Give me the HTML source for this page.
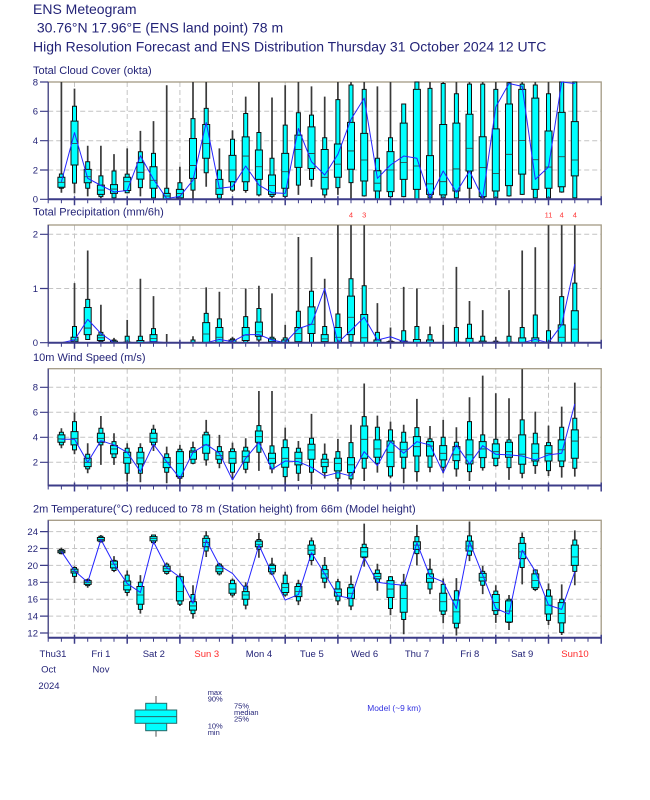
<!DOCTYPE html>
<html><head><meta charset="utf-8"><style>
body{margin:0;background:#fff}
svg{display:block}
text{font-family:"Liberation Sans",Arial,sans-serif;fill:#232377}
.d path,.d polyline{vector-effect:non-scaling-stroke}
.w{fill:none;stroke:#3a3a3a;stroke-width:1.7}
.b{fill:#00ffff;stroke:#111;stroke-width:1}
.m{fill:none;stroke:#333;stroke-width:0.8}
.l{fill:none;stroke:#2424ff;stroke-width:1;stroke-linejoin:round}
.g{fill:none;stroke:#c4c4c4;stroke-width:1;stroke-dasharray:5 3}
.ax{fill:none;stroke:#3c3c88}
.fr{fill:none;stroke:#a39a84;stroke-width:1.3}
.t{font-size:9.5px}
.pt{font-size:11px}
</style></head><body>
<svg xmlns="http://www.w3.org/2000/svg" width="650" height="800" viewBox="0 0 650 800">
<defs>
<g id="xt" class="ax">
<path stroke-width="1" d="M48.2 0v4M61.4 0v4M87.7 0v4M100.9 0v4M114 0v4M140.4 0v4M153.5 0v4M166.7 0v4M193 0v4M206.2 0v4M219.4 0v4M245.7 0v4M258.9 0v4M272 0v4M298.4 0v4M311.5 0v4M324.7 0v4M351 0v4M364.2 0v4M377.4 0v4M403.7 0v4M416.9 0v4M430 0v4M456.4 0v4M469.5 0v4M482.7 0v4M509 0v4M522.2 0v4M535.3 0v4M561.7 0v4M574.8 0v4M588 0v4"/>
<path stroke-width="1.5" d="M74.5 -3v9M127.2 -3v9M179.9 -3v9M232.5 -3v9M285.2 -3v9M337.9 -3v9M390.5 -3v9M443.2 -3v9M495.8 -3v9M548.5 -3v9M601.2 -3v9"/>
</g>
<path id="vg" class="g" d="M74.5 0V117.3M127.2 0V117.3M179.9 0V117.3M232.5 0V117.3M285.2 0V117.3M337.9 0V117.3M390.5 0V117.3M443.2 0V117.3M495.8 0V117.3M548.5 0V117.3"/>
</defs>

<!-- Titles -->
<text x="33" y="14" style="font-size:14px">ENS Meteogram</text>
<text x="33" y="32.7" style="font-size:14px;white-space:pre"> 30.76°N 17.96°E (ENS land point) 78 m</text>
<text x="33" y="51.7" style="font-size:14px">High Resolution Forecast and ENS Distribution Thursday 31 October 2024 12 UTC</text>

<!-- ============ CLOUD ============ -->
<text class="pt" x="33" y="74">Total Cloud Cover (okta)</text>
<path class="g" d="M48.2 170H601.2M48.2 140.7H601.2M48.2 111.3H601.2"/>
<use href="#vg" y="82"/>
<rect class="fr" x="48.2" y="82" width="553" height="117.3"/>
<g class="d" transform="matrix(1 0 0 -14.66 0 199.3)">
<path class="w" d="M61.4 0.45V8M74.5 0.4V7.55M87.7 0.2V3.65M100.9 0.07V3.65M114 0.03V3.08M127.2 0.4V3.47M140.4 0.2V4.67M153.5 0.07V5.33M166.7 0V7.78M179.9 0V2.22M193 0V8M206.2 0.86V8M219.4 0V3.47M232.5 0.5V4.7M245.7 0.45V7M258.9 0.2V8M272 0.1V6.94M285.2 0V7.78M298.4 0.3V8M311.5 0.86V7.7M324.7 0.1V7M337.9 0.3V8M351 0V8M364.2 0.18V8M377.4 0V7.7M390.5 0.18V8M403.7 0.14V6.5M416.9 0V8M430 0V8M443.2 0V8M456.4 0V8M469.5 0V8M482.7 0V8M495.8 0V8M509 0.18V8M522.2 0.3V8M535.3 0.1V8M548.5 0V8M561.7 0.45V8M574.8 0V8"/>
<path class="b" d="M59.4 0.75h4V1.73h-4zM72.5 1.1h4V6.35h-4zM85.7 0.75h4V2.56h-4zM98.9 0.18h4V1.6h-4zM112 0.1h4V1.93h-4zM125.2 0.45h4V1.72h-4zM138.4 0.8h4V3.24h-4zM151.5 0.1h4V3.13h-4zM164.7 0h4V0.75h-4zM177.9 0.07h4V1.13h-4zM191 0.63h4V5.5h-4zM204.2 1.81h4V6.2h-4zM217.4 0.07h4V2h-4zM230.5 0.63h4V4.1h-4zM243.7 0.6h4V5.85h-4zM256.9 0.3h4V4.56h-4zM270 0.2h4V2.8h-4zM283.2 0.2h4V5.06h-4zM296.4 0.97h4V5.9h-4zM309.5 1.36h4V5.74h-4zM322.7 0.3h4V4.2h-4zM335.9 0.8h4V6.8h-4zM349 1.14h4V7.8h-4zM362.2 0.23h4V7.5h-4zM375.4 0h4V2.8h-4zM388.5 0.18h4V4.2h-4zM401.7 0.18h4V6.5h-4zM414.9 0h4V8h-4zM428 0.1h4V7.57h-4zM441.2 0.1h4V7.9h-4zM454.4 0.1h4V7.2h-4zM467.5 0.75h4V7.86h-4zM480.7 0.1h4V7.86h-4zM493.8 0.1h4V7.5h-4zM507 0.23h4V7.95h-4zM520.2 0.34h4V7.86h-4zM533.3 0.1h4V7.8h-4zM546.5 0.1h4V7.2h-4zM559.7 0.5h4V8h-4zM572.8 0.1h4V8h-4z"/>
<path class="b" d="M57.9 0.82h7V1.5h-7zM71 2.34h7V5.33h-7zM84.2 1.13h7V2.04h-7zM97.4 0.34h7V0.97h-7zM110.5 0.4h7V1h-7zM123.7 0.6h7V1.5h-7zM136.9 1.38h7V2.5h-7zM150 0.75h7V2.22h-7zM163.2 0.02h7V0.4h-7zM176.4 0.1h7V0.68h-7zM189.5 1.43h7V4.15h-7zM202.7 2.8h7V5.1h-7zM215.9 0.34h7V1.36h-7zM229 1.2h7V3h-7zM242.2 1.2h7V4.26h-7zM255.4 1.36h7V3.36h-7zM268.5 0.34h7V1.66h-7zM281.7 0.75h7V3.13h-7zM294.9 2.18h7V4.38h-7zM308 2.1h7V4.94h-7zM321.2 0.7h7V3.4h-7zM334.4 1.5h7V3.77h-7zM347.5 2.05h7V5.25h-7zM360.7 1.25h7V4.5h-7zM373.9 0.57h7V1.95h-7zM387 0.52h7V3.25h-7zM400.2 1.36h7V5.2h-7zM413.4 0.68h7V7.5h-7zM426.5 0.34h7V2.98h-7zM439.7 0.3h7V5.1h-7zM452.9 0.57h7V5.2h-7zM466 1.93h7V5.8h-7zM479.2 0.18h7V4.27h-7zM492.3 0.57h7V4.8h-7zM505.5 0.93h7V6.5h-7zM518.7 1.72h7V7.5h-7zM531.8 0.68h7V6.9h-7zM545 0.75h7V4.66h-7zM558.2 0.86h7V5.93h-7zM571.3 1.6h7V5.3h-7z"/>
<path class="m" d="M57.9 1.16h7M71 3.8h7M84.2 1.54h7M97.4 0.63h7M110.5 0.7h7M123.7 1.2h7M136.9 1.84h7M150 1.3h7M163.2 0.22h7M176.4 0.4h7M189.5 2.3h7M202.7 3.8h7M215.9 0.75h7M229 2h7M242.2 2.95h7M255.4 2.22h7M268.5 0.95h7M281.7 1.88h7M294.9 3.4h7M308 3.13h7M321.2 1.5h7M334.4 2.4h7M347.5 3.3h7M360.7 2.68h7M373.9 1.1h7M387 2h7M400.2 2.5h7M413.4 2.27h7M426.5 1.05h7M439.7 1.2h7M452.9 2.07h7M466 3.48h7M479.2 2.16h7M492.3 1.77h7M505.5 3.07h7M518.7 4h7M531.8 2.7h7M545 2.2h7M558.2 2.9h7M571.3 2.68h7"/>
<polyline class="l" points="61.4,1.2 74.5,4.55 87.7,1.43 100.9,0.95 114,0.5 127.2,0.6 140.4,2.97 153.5,1.36 166.7,0.05 179.9,0.2 193,1.3 206.2,5.24 219.4,0.75 232.5,0.86 245.7,2.27 258.9,0.97 272,0.45 285.2,0.4 298.4,4.83 311.5,2.56 324.7,1.66 337.9,3.07 351,5.45 364.2,6.9 377.4,1.43 390.5,2.34 403.7,2.95 416.9,2.8 430,0.1 443.2,1.93 456.4,0.48 469.5,1.93 482.7,0.1 495.8,6.3 509,7.9 522.2,7.7 535.3,1.36 548.5,2.2 561.7,8 574.8,7.9"/>
</g>
<path class="ax" stroke-width="1.2" d="M48.2 82V199.3M40 199.3H48.2M40 170H48.2M40 140.7H48.2M40 111.3H48.2M40 82H48.2"/>
<path class="ax" stroke-width="2" d="M48.2 199.3H601.2"/>
<use href="#xt" y="199.3"/>
<text class="t" x="38" y="202.7" text-anchor="end">0</text>
<text class="t" x="38" y="173.4" text-anchor="end">2</text>
<text class="t" x="38" y="144.1" text-anchor="end">4</text>
<text class="t" x="38" y="114.7" text-anchor="end">6</text>
<text class="t" x="38" y="85.4" text-anchor="end">8</text>

<!-- ============ PRECIP ============ -->
<text class="pt" x="33" y="215.6">Total Precipitation (mm/6h)</text>
<g style="font-size:7.5px" text-anchor="middle">
<text x="351" y="217.7" style="fill:#ff3333">4</text>
<text x="364.2" y="217.7" style="fill:#ff3333">3</text>
<text x="548.5" y="217.7" style="fill:#ff3333">11</text>
<text x="561.7" y="217.7" style="fill:#ff3333">4</text>
<text x="574.8" y="217.7" style="fill:#ff3333">4</text>
</g>
<path class="g" d="M48.2 288.5H601.2M48.2 234.3H601.2"/>
<use href="#vg" y="225.4"/>
<rect class="fr" x="48.2" y="225" width="553" height="117.7"/>
<g class="d" transform="matrix(1 0 0 -54.2 0 342.7)">
<path class="w" d="M74.5 0V1.1M87.7 0.05V1.7M100.9 0V0.7M114 0V0.09M127.2 0V0.42M140.4 0V1.18M153.5 0V0.86M166.7 0V0.16M193 0V0.12M206.2 0V1.02M219.4 0V0.94M232.5 0V0.11M245.7 0V1M258.9 0V1.05M272 0V0.91M285.2 0V0.33M298.4 0V1.95M311.5 0V1.58M324.7 0V1.18M337.9 0V2.17M351 0V2.17M364.2 0V2.17M377.4 0V0.73M390.5 0V0.28M403.7 0V1.03M416.9 0V1M430 0V0.3M443.2 0V0.33M456.4 0V1.4M469.5 0V0.77M482.7 0V0.6M495.8 0V0.11M509 0V0.97M522.2 0V1.7M535.3 0V1.76M548.5 0V2.17M561.7 0V2.17M574.8 0V2.17"/>
<path class="b" d="M72.5 0.02h4V0.3h-4zM85.7 0.06h4V0.8h-4zM98.9 0.02h4V0.19h-4zM112 0h4V0.05h-4zM125.2 0h4V0.12h-4zM138.4 0h4V0.12h-4zM151.5 0h4V0.26h-4zM191 0h4V0.05h-4zM204.2 0h4V0.54h-4zM217.4 0h4V0.44h-4zM230.5 0h4V0.07h-4zM243.7 0h4V0.48h-4zM256.9 0.05h4V0.63h-4zM270 0h4V0.1h-4zM283.2 0h4V0.09h-4zM296.4 0h4V0.58h-4zM309.5 0h4V0.95h-4zM322.7 0h4V0.3h-4zM335.9 0h4V0.53h-4zM349 0.02h4V1.18h-4zM362.2 0h4V1.05h-4zM375.4 0h4V0.19h-4zM388.5 0h4V0.03h-4zM401.7 0h4V0.22h-4zM414.9 0h4V0.3h-4zM428 0h4V0.15h-4zM454.4 0h4V0.28h-4zM467.5 0h4V0.34h-4zM480.7 0h4V0.12h-4zM493.8 0h4V0.03h-4zM507 0h4V0.12h-4zM520.2 0h4V0.28h-4zM533.3 0h4V0.51h-4zM546.5 0h4V0.22h-4zM559.7 0h4V0.85h-4zM572.8 0h4V1.1h-4z"/>
<path class="b" d="M71 0.02h7V0.1h-7zM84.2 0.15h7V0.65h-7zM97.4 0.04h7V0.14h-7zM110.5 0h7V0.03h-7zM123.7 0h7V0.01h-7zM136.9 0h7V0.04h-7zM150 0.02h7V0.15h-7zM202.7 0h7V0.37h-7zM215.9 0h7V0.28h-7zM229 0h7V0.05h-7zM242.2 0.04h7V0.28h-7zM255.4 0.12h7V0.38h-7zM268.5 0.02h7V0.07h-7zM281.7 0h7V0.05h-7zM294.9 0.02h7V0.28h-7zM308 0.17h7V0.66h-7zM321.2 0.02h7V0.15h-7zM334.4 0h7V0.28h-7zM347.5 0.15h7V0.86h-7zM360.7 0h7V0.52h-7zM373.9 0h7V0.05h-7zM387 0h7V0.02h-7zM400.2 0h7V0.03h-7zM413.4 0h7V0.06h-7zM426.5 0h7V0.05h-7zM452.9 0h7V0.01h-7zM466 0h7V0.08h-7zM479.2 0h7V0.03h-7zM492.3 0h7V0.01h-7zM505.5 0h7V0.01h-7zM518.7 0h7V0.09h-7zM531.8 0h7V0.09h-7zM545 0h7V0.01h-7zM558.2 0h7V0.33h-7zM571.3 0h7V0.59h-7z"/>
<path class="m" d="M71 0.05h7M84.2 0.27h7M97.4 0.09h7M150 0.08h7M202.7 0.16h7M215.9 0.1h7M242.2 0.14h7M255.4 0.2h7M294.9 0.17h7M308 0.34h7M321.2 0.07h7M334.4 0.1h7M347.5 0.47h7M360.7 0.09h7M558.2 0.1h7M571.3 0.25h7"/>
<polyline class="l" points="61.4,0 74.5,0.05 87.7,0.43 100.9,0.17 114,0 127.2,0 140.4,0 153.5,0.02 166.7,0 179.9,0 193,0 206.2,0 219.4,0.06 232.5,0.02 245.7,0.15 258.9,0.15 272,0.05 285.2,0 298.4,0.26 311.5,0.34 324.7,1 337.9,0 351,0.23 364.2,0.47 377.4,0.05 390.5,0.11 403.7,0.02 416.9,0 430,0 443.2,0 456.4,0 469.5,0 482.7,0 495.8,0 509,0 522.2,0 535.3,0.06 548.5,0 561.7,0.33 574.8,1.45"/>
</g>
<path class="ax" stroke-width="1.2" d="M48.2 225V342.7M40 342.7H48.2M40 288.5H48.2M40 234.3H48.2"/>
<path class="ax" stroke-width="2" d="M48.2 342.7H601.2"/>
<use href="#xt" y="342.7"/>
<text class="t" x="38" y="346.1" text-anchor="end">0</text>
<text class="t" x="38" y="291.9" text-anchor="end">1</text>
<text class="t" x="38" y="237.7" text-anchor="end">2</text>

<!-- ============ WIND ============ -->
<text class="pt" x="33" y="361">10m Wind Speed (m/s)</text>
<path class="g" d="M48.2 462.3H601.2M48.2 437.3H601.2M48.2 412.3H601.2M48.2 387.3H601.2"/>
<use href="#vg" y="368.7"/>
<rect class="fr" x="48.2" y="368.7" width="553" height="116.8"/>
<g class="d" transform="matrix(1 0 0 -12.5 0 487.3)">
<path class="w" d="M61.4 3.12V4.72M74.5 2.64V5.97M87.7 1.12V3.52M100.9 1.79V5.7M114 1.79V4.32M127.2 0.45V3.52M140.4 0.4V3.52M153.5 2.9V5M166.7 0.32V3.25M179.9 0.3V3.39M193 1.84V3.65M206.2 1.73V5.39M219.4 1.52V4.19M232.5 0.59V3.57M245.7 1.12V3.92M258.9 1.31V7.7M272 1.12V7.7M285.2 0.2V4.77M298.4 0.5V3.7M311.5 0.24V5.87M324.7 0.7V3.5M337.9 0.45V3.87M351 0.2V5M364.2 0.5V8.3M377.4 1.17V5.73M390.5 0.72V5.25M403.7 0.32V5M416.9 0.45V7.07M430 1.2V4.9M443.2 1.12V5.39M456.4 0.85V4.8M469.5 0.5V7.2M482.7 1.33V8.93M495.8 1.65V7.52M509 0.59V7.12M522.2 0.72V9.45M535.3 1.07V6.05M548.5 0.9V4.93M561.7 0.77V6.45M574.8 0.85V8.37"/>
<path class="b" d="M59.4 3.39h4V4.4h-4zM72.5 2.99h4V5.25h-4zM85.7 1.47h4V2.64h-4zM98.9 3.39h4V4.72h-4zM112 2.37h4V3.65h-4zM125.2 1.12h4V3.12h-4zM138.4 1.12h4V3.17h-4zM151.5 3.39h4V4.64h-4zM164.7 1.2h4V2.67h-4zM177.9 0.72h4V3.04h-4zM191 1.92h4V3.17h-4zM204.2 2.19h4V4.4h-4zM217.4 1.92h4V3.25h-4zM230.5 1.2h4V3.07h-4zM243.7 1.44h4V3.2h-4zM256.9 2.8h4V4.93h-4zM270 1.47h4V3.31h-4zM283.2 0.85h4V3.79h-4zM296.4 1.12h4V3.12h-4zM309.5 1.2h4V3.92h-4zM322.7 1.17h4V2.64h-4zM335.9 0.72h4V2.85h-4zM349 0.67h4V3.57h-4zM362.2 1.52h4V5.65h-4zM375.4 1.92h4V4.8h-4zM388.5 0.9h4V4.59h-4zM401.7 1.52h4V4.4h-4zM414.9 1.25h4V4.77h-4zM428 1.6h4V3.87h-4zM441.2 1.6h4V4h-4zM454.4 1.47h4V3.6h-4zM467.5 1.25h4V5.25h-4zM480.7 1.57h4V4.19h-4zM493.8 1.73h4V3.84h-4zM507 1.57h4V3.79h-4zM520.2 1.12h4V5.39h-4zM533.3 1.73h4V4.32h-4zM546.5 1.33h4V3.57h-4zM559.7 1.65h4V4.8h-4zM572.8 1.52h4V5.52h-4z"/>
<path class="b" d="M57.9 3.6h7V4.19h-7zM71 3.39h7V4.45h-7zM84.2 1.65h7V2.32h-7zM97.4 3.6h7V4.32h-7zM110.5 2.67h7V3.33h-7zM123.7 1.92h7V2.8h-7zM136.9 1.87h7V2.8h-7zM150 3.6h7V4.32h-7zM163.2 1.57h7V2.37h-7zM176.4 0.85h7V2.85h-7zM189.5 2.24h7V2.9h-7zM202.7 2.72h7V4.19h-7zM215.9 2.24h7V2.85h-7zM229 1.92h7V2.85h-7zM242.2 2h7V2.9h-7zM255.4 3.6h7V4.5h-7zM268.5 1.92h7V2.72h-7zM281.7 1.6h7V3.17h-7zM294.9 1.79h7V2.8h-7zM308 2.24h7V3.44h-7zM321.2 1.65h7V2.24h-7zM334.4 1.31h7V2.32h-7zM347.5 1.17h7V2.37h-7zM360.7 2.32h7V4.9h-7zM373.9 2.4h7V3.79h-7zM387 1.65h7V3.7h-7zM400.2 2.4h7V3.6h-7zM413.4 2.5h7V4.05h-7zM426.5 2.5h7V3.65h-7zM439.7 2.19h7V3.33h-7zM452.9 2.13h7V3.25h-7zM466 1.87h7V3.79h-7zM479.2 2.37h7V3.65h-7zM492.3 2.32h7V3.47h-7zM505.5 2.4h7V3.6h-7zM518.7 1.84h7V4.19h-7zM531.8 2.1h7V3.47h-7zM545 2.1h7V3.33h-7zM558.2 2.1h7V3.79h-7zM571.3 2.32h7V4.59h-7z"/>
<path class="m" d="M57.9 3.87h7M71 3.92h7M84.2 2h7M97.4 3.92h7M110.5 3.07h7M123.7 2.37h7M136.9 2.35h7M150 3.92h7M163.2 2h7M176.4 1.92h7M189.5 2.8h7M202.7 3.39h7M215.9 2.53h7M229 2.32h7M242.2 2.45h7M255.4 4.05h7M268.5 2.32h7M281.7 2.32h7M294.9 2.32h7M308 2.99h7M321.2 2h7M334.4 1.92h7M347.5 1.8h7M360.7 3.84h7M373.9 3.07h7M387 2.8h7M400.2 3h7M413.4 3.25h7M426.5 3.3h7M439.7 2.72h7M452.9 2.6h7M466 2.6h7M479.2 3.07h7M492.3 2.85h7M505.5 2.85h7M518.7 2.65h7M531.8 2.72h7M545 2.72h7M558.2 3h7M571.3 3.7h7"/>
<polyline class="l" points="61.4,3.84 74.5,3.84 87.7,2 100.9,3.73 114,3.39 127.2,2.8 140.4,1.25 153.5,3.44 166.7,2.05 179.9,0.72 193,2.8 206.2,3.44 219.4,2.72 232.5,0.59 245.7,2.32 258.9,3.6 272,1.44 285.2,2.1 298.4,2.05 311.5,1.6 324.7,0.9 337.9,1.17 351,0.9 364.2,2.85 377.4,1.73 390.5,3.65 403.7,2.72 416.9,3.65 430,3.39 443.2,1.17 456.4,3.39 469.5,1.87 482.7,3.33 495.8,2.64 509,2.59 522.2,2.5 535.3,2.19 548.5,2.59 561.7,2.72 574.8,6.67"/>
</g>
<path class="ax" stroke-width="1.2" d="M48.2 368.7V485.5M40 462.3H48.2M40 437.3H48.2M40 412.3H48.2M40 387.3H48.2"/>
<path class="ax" stroke-width="2" d="M48.2 485.5H601.2"/>
<use href="#xt" y="485.5"/>
<text class="t" x="38" y="465.7" text-anchor="end">2</text>
<text class="t" x="38" y="440.7" text-anchor="end">4</text>
<text class="t" x="38" y="415.7" text-anchor="end">6</text>
<text class="t" x="38" y="390.7" text-anchor="end">8</text>

<!-- ============ TEMP ============ -->
<text class="pt" x="33" y="512.3">2m Temperature(°C) reduced to 78 m (Station height) from 66m (Model height)</text>
<path class="g" d="M48.2 633H601.2M48.2 616.1H601.2M48.2 599.2H601.2M48.2 582.3H601.2M48.2 565.4H601.2M48.2 548.5H601.2M48.2 531.6H601.2"/>
<use href="#vg" y="520.3"/>
<rect class="fr" x="48.2" y="520.3" width="553" height="117.4"/>
<g class="d" transform="matrix(1 0 0 -8.45 0 734.4)">
<path class="w" d="M61.4 21.3V22.1M74.5 17.9V19.9M87.7 17.35V18.45M100.9 22.7V23.6M114 19.2V21.1M127.2 16.4V19.4M140.4 14.3V18.85M153.5 22.5V23.65M166.7 18.9V20.35M179.9 15.2V19.05M193 13.7V17.65M206.2 21V24.05M219.4 18.8V20.3M232.5 16.2V18.45M245.7 14.8V18M258.9 20.9V23.85M272 18.85V20.9M285.2 16.3V19.25M298.4 15.3V18.3M311.5 20V23.3M324.7 17.3V21M337.9 15.3V18.4M351 14.7V18.8M364.2 19.85V24.95M377.4 17V20.2M390.5 14.1V18.75M403.7 11.85V19M416.9 20V24.8M430 16.6V20.8M443.2 13.15V18.45M456.4 11.7V18.5M469.5 20.5V25.2M482.7 16.6V19.95M495.8 13.2V17.65M509 12.35V16.5M522.2 17.75V23.9M535.3 16.95V19.55M548.5 12.95V17.87M561.7 11.76V17.75M574.8 17.65V24.15"/>
<path class="b" d="M59.4 21.4h4V21.9h-4zM72.5 18.7h4V19.75h-4zM85.7 17.6h4V18.3h-4zM98.9 22.8h4V23.45h-4zM112 19.4h4V20.6h-4zM125.2 16.8h4V18.85h-4zM138.4 14.8h4V18h-4zM151.5 22.7h4V23.6h-4zM164.7 19.05h4V20.15h-4zM177.9 15.4h4V18.7h-4zM191 14.3h4V16.55h-4zM204.2 21.7h4V23.5h-4zM217.4 19h4V20.15h-4zM230.5 16.5h4V18.25h-4zM243.7 15.3h4V17.55h-4zM256.9 21.9h4V23.06h-4zM270 19h4V20.15h-4zM283.2 16.5h4V18.85h-4zM296.4 15.8h4V17.85h-4zM309.5 20.6h4V22.9h-4zM322.7 18h4V20h-4zM335.9 15.8h4V18.06h-4zM349 15.2h4V17.75h-4zM362.2 20.9h4V22.5h-4zM375.4 18h4V19.45h-4zM388.5 14.9h4V18.65h-4zM401.7 13.6h4V18h-4zM414.9 21.4h4V23.4h-4zM428 17.2h4V19.55h-4zM441.2 14.2h4V17.75h-4zM454.4 12.6h4V17h-4zM467.5 21.2h4V23.5h-4zM480.7 17.65h4V19.3h-4zM493.8 14.2h4V16.95h-4zM507 13.25h4V16h-4zM520.2 19.75h4V23.3h-4zM533.3 17.15h4V19.45h-4zM546.5 13.5h4V17.1h-4zM559.7 12.08h4V16h-4zM572.8 19.3h4V23h-4z"/>
<path class="b" d="M57.9 21.5h7V21.8h-7zM71 19.1h7V19.56h-7zM84.2 17.75h7V18.2h-7zM97.4 22.9h7V23.3h-7zM110.5 19.7h7V20.5h-7zM123.7 17.1h7V18.15h-7zM136.9 15.4h7V17.5h-7zM150 22.9h7V23.4h-7zM163.2 19.3h7V19.9h-7zM176.4 15.8h7V18.65h-7zM189.5 14.7h7V15.7h-7zM202.7 22.2h7V23.2h-7zM215.9 19.25h7V19.95h-7zM229 16.7h7V17.85h-7zM242.2 16h7V16.9h-7zM255.4 22.2h7V22.87h-7zM268.5 19.25h7V20h-7zM281.7 16.8h7V17.85h-7zM294.9 16.3h7V17.5h-7zM308 21.3h7V22.4h-7zM321.2 18.5h7V19.5h-7zM334.4 16.37h7V17.2h-7zM347.5 16.1h7V17.35h-7zM360.7 21h7V22.1h-7zM373.9 18.4h7V19.05h-7zM387 16.2h7V18.2h-7zM400.2 14.45h7V17.65h-7zM413.4 21.9h7V22.8h-7zM426.5 18h7V19h-7zM439.7 14.6h7V16.7h-7zM452.9 13.15h7V15.9h-7zM466 21.7h7V22.87h-7zM479.2 18.15h7V19.05h-7zM492.3 14.65h7V16.55h-7zM505.5 13.3h7V15.8h-7zM518.7 20.8h7V22.6h-7zM531.8 17.35h7V19h-7zM545 14.25h7V16.37h-7zM558.2 13.2h7V15.6h-7zM571.3 20h7V22.4h-7z"/>
<path class="m" d="M57.9 21.65h7M71 19.3h7M84.2 18h7M97.4 23.06h7M110.5 20.15h7M123.7 17.65h7M136.9 16.5h7M150 23.2h7M163.2 19.6h7M176.4 16.9h7M189.5 15.2h7M202.7 22.7h7M215.9 19.6h7M229 17.2h7M242.2 16.5h7M255.4 22.5h7M268.5 19.6h7M281.7 17.4h7M294.9 16.9h7M308 21.8h7M321.2 19h7M334.4 16.8h7M347.5 16.7h7M360.7 21.6h7M373.9 18.7h7M387 17.2h7M400.2 16.1h7M413.4 22.4h7M426.5 18.45h7M439.7 15.7h7M452.9 14.5h7M466 22.3h7M479.2 18.6h7M492.3 15.6h7M505.5 14.6h7M518.7 21.6h7M531.8 18.2h7M545 15.3h7M558.2 14.3h7M571.3 21h7"/>
<polyline class="l" points="61.4,21.65 74.5,19.36 87.7,18 100.9,23.06 114,20.15 127.2,17.85 140.4,16.8 153.5,22.8 166.7,19.75 179.9,18.6 193,15.5 206.2,23 219.4,20 232.5,19.05 245.7,17.15 258.9,22.4 272,19.05 285.2,15.9 298.4,16.55 311.5,21.5 324.7,19 337.9,16.4 351,16.1 364.2,20.9 377.4,18 390.5,17.8 403.7,17.65 416.9,22.67 430,18.7 443.2,18.06 456.4,14.9 469.5,22.8 482.7,18.85 495.8,14.9 509,14.25 522.2,21.8 535.3,19.3 548.5,15.3 561.7,14.8 574.8,19.25"/>
</g>
<path class="ax" stroke-width="1.2" d="M48.2 520.3V637.7M40 633H48.2M40 616.1H48.2M40 599.2H48.2M40 582.3H48.2M40 565.4H48.2M40 548.5H48.2M40 531.6H48.2"/>
<path class="ax" stroke-width="2" d="M48.2 637.7H601.2"/>
<use href="#xt" y="637.7"/>
<text class="t" x="38" y="636.4" text-anchor="end">12</text>
<text class="t" x="38" y="619.5" text-anchor="end">14</text>
<text class="t" x="38" y="602.6" text-anchor="end">16</text>
<text class="t" x="38" y="585.7" text-anchor="end">18</text>
<text class="t" x="38" y="568.8" text-anchor="end">20</text>
<text class="t" x="38" y="551.9" text-anchor="end">22</text>
<text class="t" x="38" y="535" text-anchor="end">24</text>

<!-- Day labels -->
<g class="t" text-anchor="middle">
<text x="53" y="657">Thu31</text>
<text x="100.9" y="657">Fri 1</text>
<text x="153.8" y="657">Sat 2</text>
<text x="206.8" y="657" style="fill:#ff2a2a">Sun 3</text>
<text x="259" y="657">Mon 4</text>
<text x="311.8" y="657">Tue 5</text>
<text x="364.5" y="657">Wed 6</text>
<text x="417" y="657">Thu 7</text>
<text x="469.8" y="657">Fri 8</text>
<text x="522.2" y="657">Sat 9</text>
<text x="575" y="657" style="fill:#ff2a2a">Sun10</text>
<text x="48.5" y="672.5">Oct</text>
<text x="101" y="672.5">Nov</text>
<text x="49" y="689">2024</text>
</g>

<!-- Legend -->
<path d="M156 696V736.7" stroke="#a8a8a8" stroke-width="2"/>
<rect x="145.7" y="703.3" width="21" height="27.4" fill="#00ffff" stroke="#2a6868" stroke-width="1"/>
<rect x="135" y="710" width="41.7" height="13.3" fill="#00ffff" stroke="#2a6868" stroke-width="1"/>
<path d="M135 716.6H176.7" stroke="#2a6868" stroke-width="1"/>
<g style="font-size:7.5px">
<text x="207.7" y="695">max</text>
<text x="207.7" y="701.5">90%</text>
<text x="234" y="708.5">75%</text>
<text x="234" y="715">median</text>
<text x="234" y="721.5">25%</text>
<text x="207.7" y="728.5">10%</text>
<text x="207.7" y="735">min</text>
</g>
<text x="367.3" y="711" style="font-size:8.4px;fill:#3434e0">Model (~9 km)</text>
</svg>
</body></html>
